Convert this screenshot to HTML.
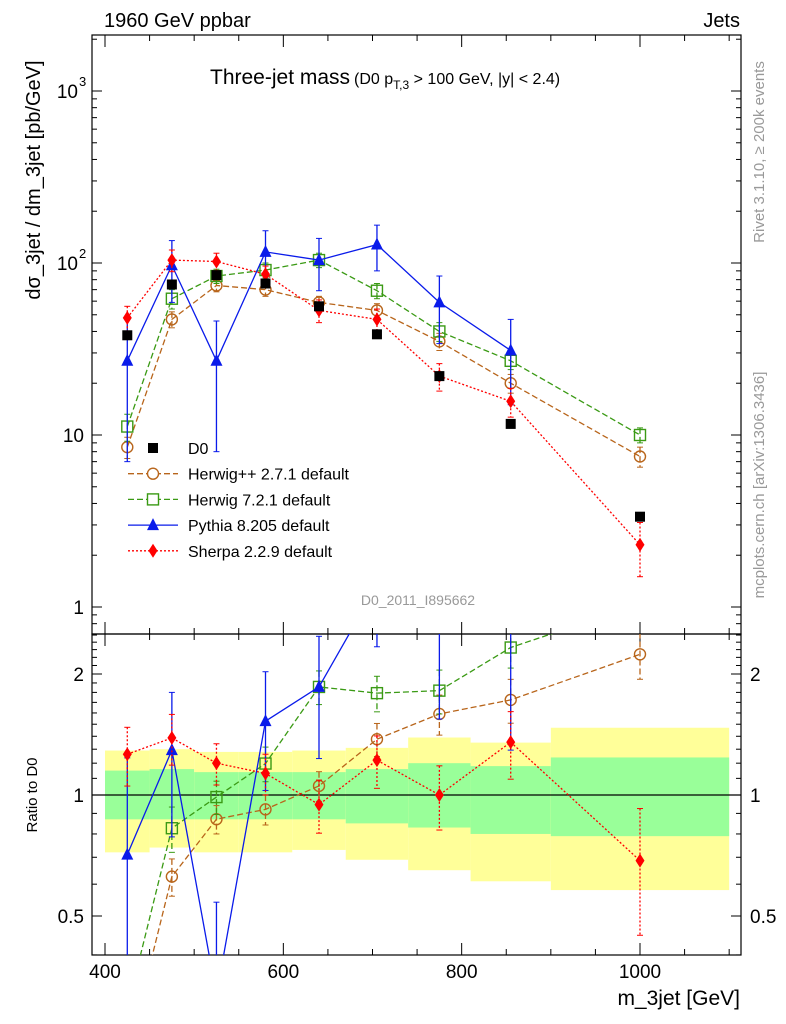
<!DOCTYPE html>
<html><head><meta charset="utf-8"><style>
html,body{margin:0;padding:0;background:#fff;width:786px;height:1024px;overflow:hidden;position:relative;}
svg{display:block;font-family:"Liberation Sans",sans-serif;}
</style></head><body>
<svg id="c" width="786" height="1024" style="position:absolute;left:0;top:0" xmlns="http://www.w3.org/2000/svg"></svg>
<script>
const categories=[425,475,525,580,640,705,775,855,1000];
const binEdges=[400,450,500,550,610,670,740,810,900,1100];
const d0=[38,75,85,76,56,38.5,22,11.6,3.35];
const herwigpp=[8.5,47,74,70,59,53,35,20,7.5];
const herwigppErr=[1.2,5,6,6,5,5,4,2.5,1];
const herwig7=[11.2,62,84,91,104,69,40,27,10];
const herwig7Err=[2,8,8,9,10,7,5,3,1];
const pythia=[27,97,27,116,104,128,59,31];
const pythiaErr=[20,38,19,38,35,38,25,16];
const sherpa=[48,104,102,86,53,47,22,15.7,2.3];
const sherpaErr=[8,15,12,10,8,7,4,3,0.8];
const bandYellowHi=[1.29,1.30,1.28,1.28,1.29,1.31,1.39,1.35,1.47];
const bandYellowLo=[0.72,0.74,0.72,0.72,0.73,0.69,0.65,0.61,0.58];
const bandGreenHi=[1.15,1.16,1.14,1.14,1.14,1.16,1.20,1.18,1.24];
const bandGreenLo=[0.87,0.87,0.87,0.87,0.87,0.85,0.83,0.80,0.79];
const xTicks=[400,600,800,1000];

const NS="http://www.w3.org/2000/svg";
const svg=document.getElementById('c');
const L=92,R=741,T=35,M=634,B=955;
const X=v=>105+(v-400)*535/600;
const Y=v=>607-172*Math.log10(v);
const RY=r=>795-121*Math.log2(r);
function el(t,a,p){const e=document.createElementNS(NS,t);for(const k in a)e.setAttribute(k,a[k]);(p||svg).appendChild(e);return e;}
function txt(s,a,p){const e=el('text',a,p);e.textContent=s;return e;}

const defs=el('defs',{});
const c1=el('clipPath',{id:'cm'},defs);el('rect',{x:L,y:T,width:R-L,height:M-T},c1);
const c2=el('clipPath',{id:'cr'},defs);el('rect',{x:L,y:M,width:R-L,height:B-M},c2);

const gBand=el('g',{'clip-path':'url(#cr)'});


for(let i=0;i<9;i++){
  const x0=X(binEdges[i]),x1=X(binEdges[i+1]);
  const y=el('rect',{x:x0,y:RY(bandYellowHi[i]),width:x1-x0,height:RY(bandYellowLo[i])-RY(bandYellowHi[i]),fill:'#ffff99'},gBand);
  
  
  const g=el('rect',{x:x0,y:RY(bandGreenHi[i]),width:x1-x0,height:RY(bandGreenLo[i])-RY(bandGreenHi[i]),fill:'#99ff99'},gBand);
  
  
}
el('line',{x1:L,x2:R,y1:RY(1),y2:RY(1),stroke:'#000','stroke-width':1.2});

el('rect',{x:L,y:T,width:R-L,height:M-T,fill:'none',stroke:'#000','stroke-width':1.2});
el('rect',{x:L,y:M,width:R-L,height:B-M,fill:'none',stroke:'#000','stroke-width':1.2});

for(let d=0;d<=3;d++){for(let m=1;m<10;m++){const v=m*Math.pow(10,d);const y=Y(v);if(y<T||y>M)continue;const len=m==1?10:5;
el('line',{x1:L,x2:L+len,y1:y,y2:y,stroke:'#000'});el('line',{x1:R,x2:R-len,y1:y,y2:y,stroke:'#000'});}}
for(const v of [0.8,0.9]){const y=Y(v);if(y<M){el('line',{x1:L,x2:L+5,y1:y,y2:y,stroke:'#000'});el('line',{x1:R,x2:R-5,y1:y,y2:y,stroke:'#000'});}}
txt('1',{x:84,y:614,'font-size':19,'text-anchor':'end'});
txt('10',{x:84,y:442,'font-size':19,'text-anchor':'end'});
txt('10',{x:78,y:270,'font-size':19,'text-anchor':'end'});txt('2',{x:79,y:258,'font-size':13});
txt('10',{x:78,y:98,'font-size':19,'text-anchor':'end'});txt('3',{x:79,y:86,'font-size':13});

for(let r=0.4;r<2.55;r+=0.1){const y=RY(r);if(y<M||y>B)continue;const big=Math.abs(r-1)<1e-6||Math.abs(r-2)<1e-6||Math.abs(r-0.5)<1e-6;const len=big?10:5;
el('line',{x1:L,x2:L+len,y1:y,y2:y,stroke:'#000'});el('line',{x1:R,x2:R-len,y1:y,y2:y,stroke:'#000'});}
[[2,'2'],[1,'1'],[0.5,'0.5']].forEach(([v,s])=>{txt(s,{x:84,y:RY(v)+7,'font-size':19,'text-anchor':'end'});txt(s,{x:750,y:RY(v)+7,'font-size':19});});

for(let v=400;v<=1100;v+=50){const x=X(v);if(x<L||x>R)continue;const len=v%200==0?12:6;
el('line',{x1:x,x2:x,y1:B,y2:B-len,stroke:'#000'});el('line',{x1:x,x2:x,y1:M,y2:M-len,stroke:'#000'});el('line',{x1:x,x2:x,y1:M,y2:M+len,stroke:'#000'});el('line',{x1:x,x2:x,y1:T,y2:T+len,stroke:'#000'});}
xTicks.forEach(v=>txt(String(v),{x:X(v),y:978,'font-size':19,'text-anchor':'middle'}));

function series(name,vals,errs,color,dash,marker,clip,yf,ratio){
  const g=el('g',{'clip-path':clip});
  
  
  const pts=vals.map((v,i)=>{const val=ratio?v/d0[i]:v;return [X(categories[i]),yf(val),val,i];});
  if(color!=='#000') el('polyline',{points:pts.map(p=>p[0]+','+p[1]).join(' '),fill:'none',stroke:color,'stroke-width':1.3,'stroke-dasharray':dash},g);
  pts.forEach(([x,y,val,i])=>{
    if(errs){const e=ratio?errs[i]/d0[i]:errs[i];const lo=Math.max(val-e,1e-3);const y1=yf(val+e),y2=yf(lo);
      el('line',{x1:x,x2:x,y1:y1,y2:y2,stroke:color,'stroke-width':1.3,'stroke-dasharray':dash},g);
      el('line',{x1:x-3,x2:x+3,y1:y1,y2:y1,stroke:color},g);el('line',{x1:x-3,x2:x+3,y1:y2,y2:y2,stroke:color},g);}
    let m;
    if(marker==='sq') m=el('rect',{x:x-5,y:y-5,width:10,height:10,fill:'#000'},g);
    else if(marker==='circ') m=el('circle',{cx:x,cy:y,r:5.5,fill:'none',stroke:color,'stroke-width':1.4},g);
    else if(marker==='osq') m=el('rect',{x:x-5.5,y:y-5.5,width:11,height:11,fill:'none',stroke:color,'stroke-width':1.4},g);
    else if(marker==='tri') m=el('polygon',{points:`${x},${y-7} ${x-6},${y+5} ${x+6},${y+5}`,fill:color},g);
    else m=el('polygon',{points:`${x},${y-7} ${x-4.5},${y} ${x},${y+7} ${x+4.5},${y}`,fill:color},g);
    
    
  });
}
const brown='#b8651b',green='#3a9a14',blue='#0a1bea',red='#ff0000';
series('herwigpp-series',herwigpp,herwigppErr,brown,'6,3','circ','url(#cm)',Y,false);
series('herwig7-series',herwig7,herwig7Err,green,'6,3','osq','url(#cm)',Y,false);
series('pythia-series',pythia,pythiaErr,blue,'','tri','url(#cm)',Y,false);
series('sherpa-series',sherpa,sherpaErr,red,'2,2','dia','url(#cm)',Y,false);
series('d0-series',d0,null,'#000','','sq','url(#cm)',Y,false);
series('herwigpp-ratio',herwigpp,herwigppErr,brown,'6,3','circ','url(#cr)',RY,true);
series('herwig7-ratio',herwig7,herwig7Err,green,'6,3','osq','url(#cr)',RY,true);
series('pythia-ratio',pythia,pythiaErr,blue,'','tri','url(#cr)',RY,true);
series('sherpa-ratio',sherpa,sherpaErr,red,'2,2','dia','url(#cr)',RY,true);

const lg=el('g',{});


const leg=[['D0','#000','','sq'],['Herwig++ 2.7.1 default',brown,'6,3','circ'],['Herwig 7.2.1 default',green,'6,3','osq'],['Pythia 8.205 default',blue,'','tri'],['Sherpa 2.2.9 default',red,'2,2','dia']];
leg.forEach(([s,c,d,m],i)=>{const y=448+i*25.7;const x=153;
  const e=el('g',{},lg);
  
  
  if(m!=='sq') el('line',{x1:128,x2:178,y1:y,y2:y,stroke:c,'stroke-width':1.3,'stroke-dasharray':d},e);
  if(m==='sq') el('rect',{x:x-5,y:y-5,width:10,height:10,fill:'#000'},e);
  else if(m==='circ') el('circle',{cx:x,cy:y,r:5.5,fill:'#fff',stroke:c,'stroke-width':1.4},e);
  else if(m==='osq') el('rect',{x:x-5.5,y:y-5.5,width:11,height:11,fill:'#fff',stroke:c,'stroke-width':1.4},e);
  else if(m==='tri') el('polygon',{points:`${x},${y-7} ${x-6},${y+5} ${x+6},${y+5}`,fill:c},e);
  else el('polygon',{points:`${x},${y-7} ${x-4.5},${y} ${x},${y+7} ${x+4.5},${y}`,fill:c},e);
  txt(s,{x:188,y:y+6,'font-size':16},e);
});
</script>
<svg width="786" height="1024" style="position:absolute;left:0;top:0" xmlns="http://www.w3.org/2000/svg">
<text x="104" y="27" font-size="20">1960 GeV ppbar</text>
<text x="740" y="27" font-size="20" text-anchor="end">Jets</text>
<text x="210" y="84" font-size="21">Three-jet mass<tspan font-size="16" dx="4">(D0 p</tspan><tspan font-size="12" dy="5">T,3</tspan><tspan font-size="16" dy="-5"> &gt; 100 GeV, |y| &lt; 2.4)</tspan></text>
<text x="418" y="605" font-size="14" fill="#999" text-anchor="middle">D0_2011_I895662</text>
<text transform="translate(40,180) rotate(-90)" font-size="20" text-anchor="middle">dσ_3jet / dm_3jet [pb/GeV]</text>
<text transform="translate(37,795) rotate(-90)" font-size="15" text-anchor="middle">Ratio to D0</text>
<text x="740" y="1005" font-size="21" text-anchor="end">m_3jet [GeV]</text>
<text transform="translate(764,152) rotate(-90)" font-size="15" fill="#999" text-anchor="middle">Rivet 3.1.10, ≥ 200k events</text>
<text transform="translate(764,485) rotate(-90)" font-size="15" fill="#999" text-anchor="middle">mcplots.cern.ch [arXiv:1306.3436]</text>
</svg>
</body></html>
